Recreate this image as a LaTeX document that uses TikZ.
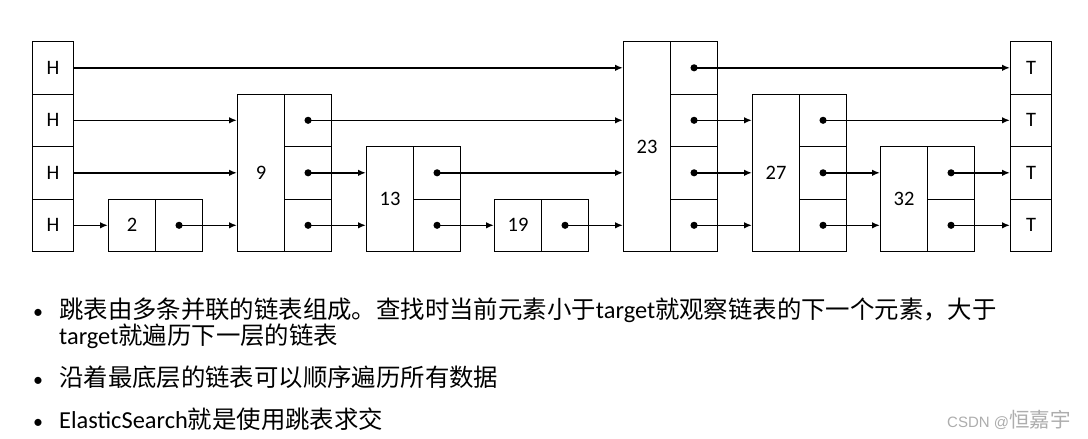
\documentclass[tikz,border=0pt]{standalone}
\usepackage{fontspec}
\setmainfont{Carlito}
\newfontfamily\cjk{Noto Sans CJK SC}
\newfontfamily\wmfont{Liberation Sans}
\usetikzlibrary{arrows.meta}
\begin{document}
\begin{tikzpicture}[x=1pt,y=-1pt,
  cell/.style={draw=black, line width=1.1pt, minimum width=47pt, minimum height=52.5pt,
    inner sep=0pt, anchor=north west, font=\fontsize{20.5}{24}\selectfont},
  hlink/.style={line width=1.6pt, -{Latex[length=8pt,width=6.5pt]}},
  plink/.style={line width=1.6pt, {Circle[length=7pt]}-{Latex[length=8pt,width=6.5pt]}, shorten <=-3.5pt},
  txt/.style={font=\fontsize{24.4}{28}\selectfont, inner sep=0pt, anchor=base west},
  bul/.style={font=\fontsize{20}{24}\selectfont, inner sep=0pt, anchor=base}]
\fill[white] (0,0) rectangle (1088,439);
\useasboundingbox (0,0) rectangle (1088,439);

% head and tail columns
\foreach \r/\y in {1/41,2/93.5,3/146,4/198.5}{
  \node[cell, minimum width=41pt] (H\r) at (32,\y) {H};
  \node[cell, minimum width=41pt] (T\r) at (1010,\y) {T};
}

% node 2
\node[cell] (k2) at (108,198.5) {2};
\node[cell] (p2r4) at (155,198.5) {};
% node 9
\node[cell, minimum height=157.5pt] (k9) at (237,93.5) {9};
\node[cell] (p9r2) at (284,93.5) {};
\node[cell] (p9r3) at (284,146) {};
\node[cell] (p9r4) at (284,198.5) {};
% node 13
\node[cell, minimum height=105pt] (k13) at (366,146) {13};
\node[cell] (p13r3) at (413,146) {};
\node[cell] (p13r4) at (413,198.5) {};
% node 19
\node[cell] (k19) at (494,198.5) {19};
\node[cell] (p19r4) at (541,198.5) {};
% node 23
\node[cell, minimum height=210pt] (k23) at (623,41) {23};
\node[cell] (p23r1) at (670,41) {};
\node[cell] (p23r2) at (670,93.5) {};
\node[cell] (p23r3) at (670,146) {};
\node[cell] (p23r4) at (670,198.5) {};
% node 27
\node[cell, minimum height=157.5pt] (k27) at (752,93.5) {27};
\node[cell] (p27r2) at (799,93.5) {};
\node[cell] (p27r3) at (799,146) {};
\node[cell] (p27r4) at (799,198.5) {};
% node 32
\node[cell, minimum height=105pt] (k32) at (880,146) {32};
\node[cell] (p32r3) at (927,146) {};
\node[cell] (p32r4) at (927,198.5) {};

% level 1
\draw[hlink] (H1.east) -- (H1.east -| k23.west);
\draw[plink] (p23r1.center) -- (p23r1.center -| T1.west);
% level 2
\draw[hlink] (H2.east) -- (H2.east -| k9.west);
\draw[plink] (p9r2.center) -- (p9r2.center -| k23.west);
\draw[plink] (p23r2.center) -- (p23r2.center -| k27.west);
\draw[plink] (p27r2.center) -- (p27r2.center -| T2.west);
% level 3
\draw[hlink] (H3.east) -- (H3.east -| k9.west);
\draw[plink] (p9r3.center) -- (p9r3.center -| k13.west);
\draw[plink] (p13r3.center) -- (p13r3.center -| k23.west);
\draw[plink] (p23r3.center) -- (p23r3.center -| k27.west);
\draw[plink] (p27r3.center) -- (p27r3.center -| k32.west);
\draw[plink] (p32r3.center) -- (p32r3.center -| T3.west);
% level 4
\draw[hlink] (H4.east) -- (H4.east -| k2.west);
\draw[plink] (p2r4.center) -- (p2r4.center -| k9.west);
\draw[plink] (p9r4.center) -- (p9r4.center -| k13.west);
\draw[plink] (p13r4.center) -- (p13r4.center -| k19.west);
\draw[plink] (p19r4.center) -- (p19r4.center -| k23.west);
\draw[plink] (p23r4.center) -- (p23r4.center -| k27.west);
\draw[plink] (p27r4.center) -- (p27r4.center -| k32.west);
\draw[plink] (p32r4.center) -- (p32r4.center -| T4.west);

% bullet text
\node[bul] (d1) at (38,318) {•};
\node[txt] (l1a) at (59,318) {{\cjk 跳表由多条并联的链表组成。查找时当前元素小于}target{\cjk 就观察链表的下一个元素，大于}};
\node[txt] (l1b) at (59,344) {target{\cjk 就遍历下一层的链表}};
\node[bul] (d2) at (38,386) {•};
\node[txt] (l2) at (59,386) {{\cjk 沿着最底层的链表可以顺序遍历所有数据}};
\node[bul] (d3) at (38,428) {•};
\node[txt] (l3) at (59,428) {ElasticSearch{\cjk 就是使用跳表求交}};

% watermark
\node[anchor=base west, inner sep=0pt, text=black!32, font=\wmfont\fontsize{15}{18}\selectfont] (wm) at (947,427) {CSDN @{\cjk\fontsize{20.5}{22}\selectfont 恒嘉宇}};
\end{tikzpicture}
\end{document}
